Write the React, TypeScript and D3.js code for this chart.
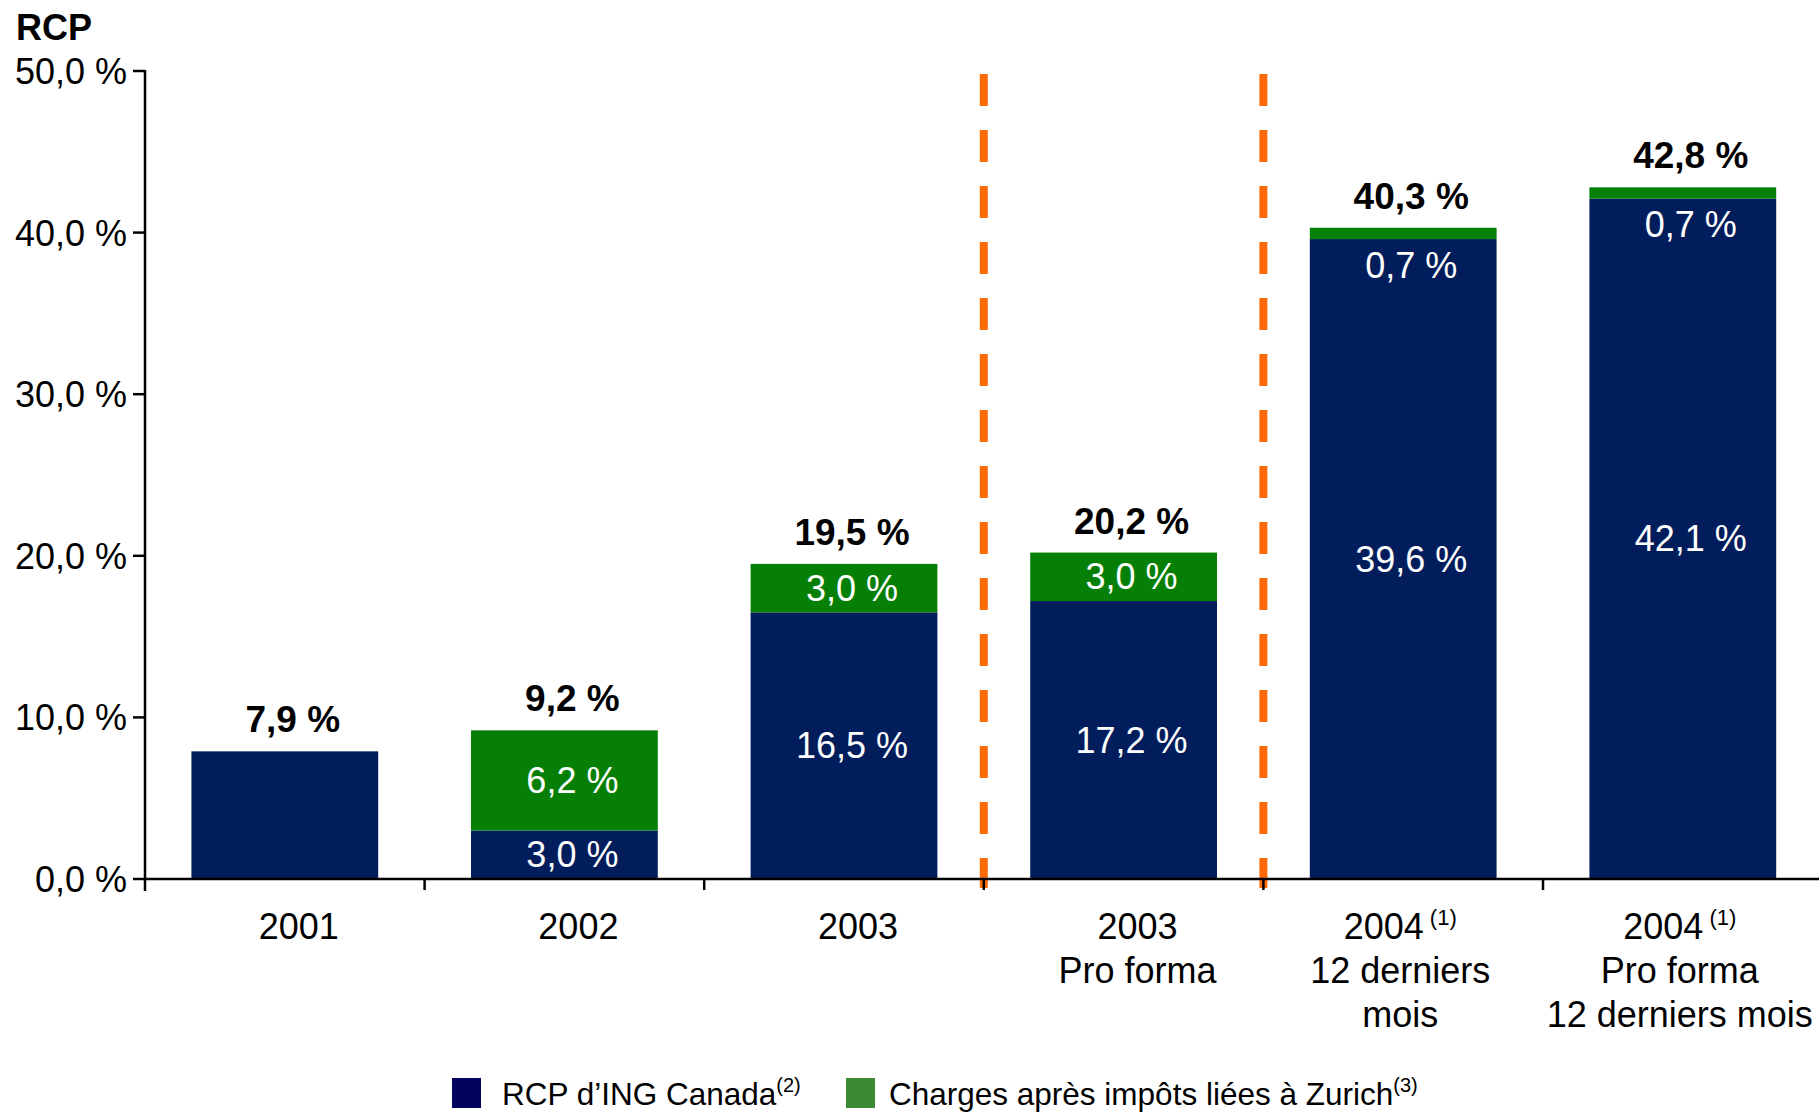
import React from "react";
import * as d3 from "d3";

const categories = ["2001", "2002", "2003", "2003 PF", "2004 LTM", "2004 PF LTM"];
const categoryLines: string[][] = [
  ["2001"],
  ["2002"],
  ["2003"],
  ["2003", "Pro forma"],
  ["2004", "12 derniers", "mois"],
  ["2004", "Pro forma", "12 derniers mois"],
];
const categoryNotes = ["", "", "", "", "(1)", "(1)"];
const rcpIng = [7.9, 3.0, 16.5, 17.2, 39.6, 42.1];
const chargesZurich = [0, 6.2, 3.0, 3.0, 0.7, 0.7];
const totals = [7.9, 9.2, 19.5, 20.2, 40.3, 42.8];
const yTicks = [0, 10, 20, 30, 40, 50];
const separatorsBefore = ["2003 PF", "2004 LTM"];
const legendItems = [
  { label: "RCP d\u2019ING Canada", note: "(2)" },
  { label: "Charges apr\u00e8s imp\u00f4ts li\u00e9es \u00e0 Zurich", note: "(3)" },
];

const W = 1819;
const H = 1112;
const FONT = "'Liberation Sans', Arial, Helvetica, sans-serif";
const NAVY = "#021D5C";
const GREEN = "#067F06";
const LEG_NAVY = "#02035F";
const LEG_GREEN = "#3C8A34";
const ORANGE = "#FF6A08";

const fmt = (v: number) => d3.format(".1f")(v).replace(".", ",") + " %";

export default function App() {
  const x = d3.scaleBand<string>().domain(categories).range([145, 145 + 6 * 279.6]).padding(0);
  const y = d3.scaleLinear().domain([0, 50]).range([879, 71]);
  const bw = x.bandwidth();
  const barW = bw * 0.668;
  const barOff = (bw - barW) / 2;
  const labelDx = 8;

  return (
    <svg
      width={W}
      height={H}
      style={{ position: "absolute", left: 0, top: 0, background: "#fff" }}
      fontFamily={FONT}
    >
      {/* title */}
      <text x={16} y={40} fontSize={36} fontWeight="bold" fill="#000">
        RCP
      </text>

      {/* bars */}
      {categories.map((c, i) => {
        const x0 = (x(c) as number) + barOff;
        const cx = x0 + barW / 2 + labelDx;
        const navyTop = y(rcpIng[i]);
        const greenTop = y(rcpIng[i] + chargesZurich[i]);
        const greenH = navyTop - greenTop;
        const hasGreen = chargesZurich[i] > 0;
        return (
          <g key={c}>
            <rect x={x0} y={navyTop} width={barW} height={y(0) - navyTop} fill={NAVY} />
            {hasGreen && <rect x={x0} y={greenTop} width={barW} height={greenH} fill={GREEN} />}
            {hasGreen && (
              <text
                x={cx}
                y={(navyTop + y(0)) / 2 + 12.5}
                textAnchor="middle"
                fontSize={36}
                fill="#fff"
              >
                {fmt(rcpIng[i])}
              </text>
            )}
            {hasGreen && (
              <text
                x={cx}
                y={(greenH < 30 ? navyTop + 26 : (greenTop + navyTop) / 2) + 12.5}
                textAnchor="middle"
                fontSize={36}
                fill="#fff"
              >
                {fmt(chargesZurich[i])}
              </text>
            )}
            <text
              x={cx}
              y={y(totals[i]) - 19}
              textAnchor="middle"
              fontSize={37}
              fontWeight="bold"
              fill="#000"
            >
              {fmt(totals[i])}
            </text>
          </g>
        );
      })}

      {/* dashed separators */}
      {separatorsBefore.map((c) => (
        <line
          key={c}
          x1={x(c) as number}
          x2={x(c) as number}
          y1={74}
          y2={888}
          stroke={ORANGE}
          strokeWidth={8}
          strokeDasharray="32 24"
        />
      ))}

      {/* y axis */}
      <line x1={145} x2={145} y1={70} y2={891} stroke="#000" strokeWidth={2.5} />
      {yTicks.map((t) => (
        <g key={t}>
          <line x1={133} x2={145} y1={y(t)} y2={y(t)} stroke="#000" strokeWidth={2.5} />
          <text x={127} y={y(t) + 13} textAnchor="end" fontSize={36} fill="#000">
            {fmt(t)}
          </text>
        </g>
      ))}

      {/* x axis */}
      <line x1={144} x2={W} y1={y(0)} y2={y(0)} stroke="#000" strokeWidth={2.5} />
      {categories.slice(1).map((c) => (
        <line
          key={c}
          x1={x(c) as number}
          x2={x(c) as number}
          y1={y(0)}
          y2={y(0) + 11}
          stroke="#000"
          strokeWidth={2.5}
        />
      ))}
      {categories.map((c, i) => {
        const cx = (x(c) as number) + bw / 2 + (i < 4 ? 14 : -3);
        return (
          <g key={c}>
            {categoryLines[i].map((ln, j) => (
              <text
                key={j}
                x={cx}
                y={939 + j * 44}
                textAnchor="middle"
                fontSize={36}
                fill="#000"
              >
                {ln}
                {j === 0 && categoryNotes[i] ? (
                  <tspan fontSize={22} dy={-14}>
                    {"  " + categoryNotes[i]}
                  </tspan>
                ) : null}
              </text>
            ))}
          </g>
        );
      })}

      {/* legend */}
      {legendItems.map((it, i) => {
        const lx = i === 0 ? 452 : 846;
        const tx = i === 0 ? 502 : 889;
        return (
          <g key={it.label}>
            <rect x={lx} y={1078} width={29} height={30} fill={i === 0 ? LEG_NAVY : LEG_GREEN} />
            <text x={tx} y={1105} fontSize={31.5} fill="#000">
              {it.label}
              <tspan fontSize={20} dy={-13}>
                {it.note}
              </tspan>
            </text>
          </g>
        );
      })}
    </svg>
  );
}
